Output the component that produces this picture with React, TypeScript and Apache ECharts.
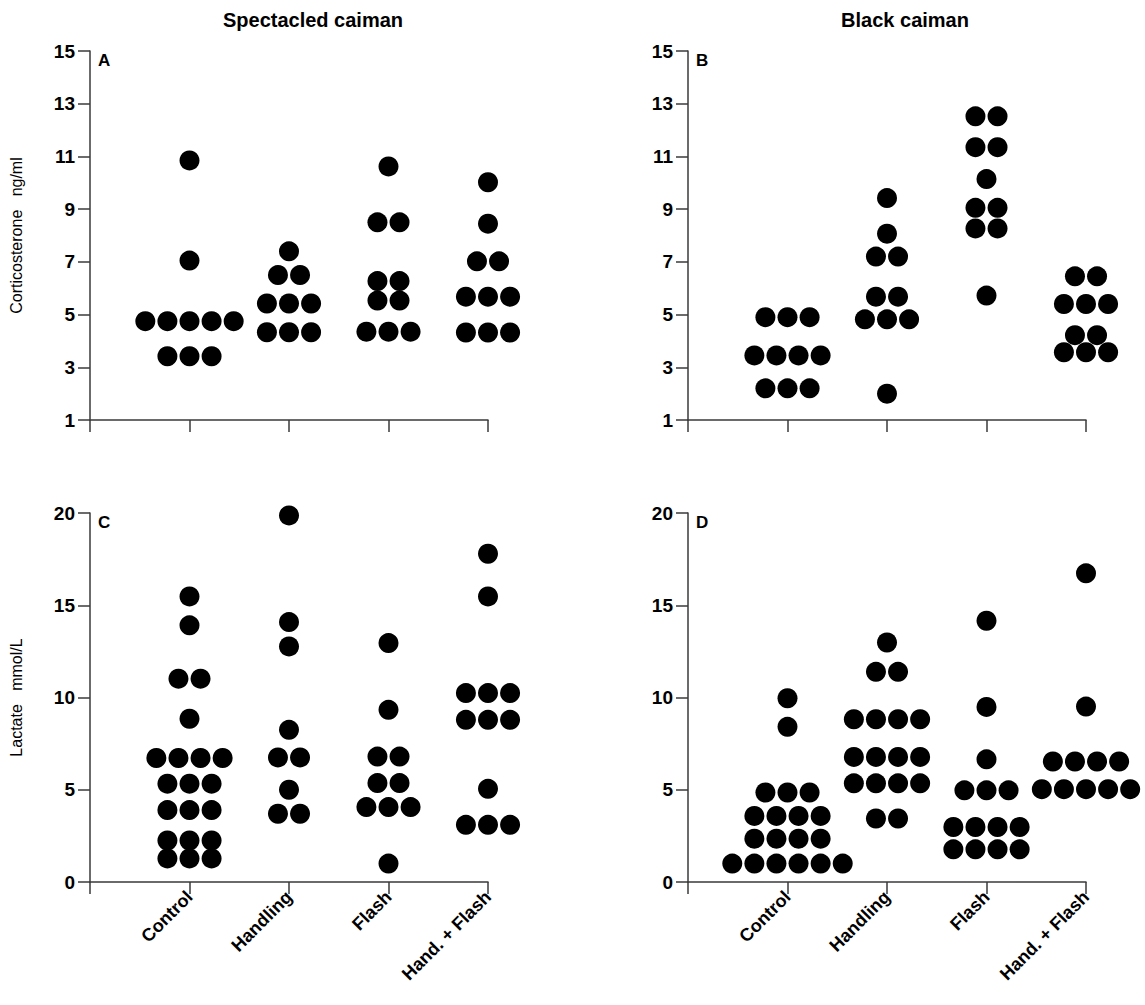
import React, { useEffect, useRef } from "react";
import * as echarts from "echarts";

const categories = ["Control", "Handling", "Flash", "Hand. + Flash"];

// Panel A – Spectacled caiman, corticosterone (ng/ml)
const specCortControl = [10.85, 7.05, 4.75, 4.75, 4.75, 4.75, 4.75, 3.42, 3.42, 3.42];
const specCortHandling = [7.4, 6.5, 6.5, 5.42, 5.42, 5.42, 4.33, 4.33, 4.33];
const specCortFlash = [10.62, 8.5, 8.5, 6.27, 6.27, 5.53, 5.53, 4.35, 4.35, 4.35];
const specCortHandFlash = [10.02, 8.45, 7.02, 7.02, 5.68, 5.68, 5.68, 4.32, 4.32, 4.32];

// Panel B – Black caiman, corticosterone (ng/ml)
const blackCortControl = [4.9, 4.9, 4.9, 3.45, 3.45, 3.45, 3.45, 2.2, 2.2, 2.2];
const blackCortHandling = [9.42, 8.07, 7.2, 7.2, 5.68, 5.68, 4.82, 4.82, 4.82, 2.0];
const blackCortFlash = [12.52, 12.52, 11.35, 11.35, 10.14, 9.05, 9.05, 8.27, 8.27, 5.72];
const blackCortHandFlash = [6.45, 6.45, 5.4, 5.4, 5.4, 4.22, 4.22, 3.57, 3.57, 3.57];

// Panel C – Spectacled caiman, lactate (mmol/L)
const specLacControl = [15.48, 13.91, 11.02, 11.02, 8.85, 6.72, 6.72, 6.72, 6.72, 5.33, 5.33, 5.33, 3.9, 3.9, 3.9, 2.25, 2.25, 2.25, 1.28, 1.28, 1.28];
const specLacHandling = [19.87, 14.09, 12.77, 8.25, 6.75, 6.75, 5.0, 3.7, 3.7];
const specLacFlash = [12.95, 9.33, 6.8, 6.8, 5.36, 5.36, 4.06, 4.06, 4.06, 1.0];
const specLacHandFlash = [17.79, 15.48, 10.24, 10.24, 10.24, 8.79, 8.79, 8.79, 5.05, 3.1, 3.1, 3.1];

// Panel D – Black caiman, lactate (mmol/L)
const blackLacControl = [9.96, 8.41, 4.85, 4.85, 4.85, 3.58, 3.58, 3.58, 3.58, 2.35, 2.35, 2.35, 2.35, 1.0, 1.0, 1.0, 1.0, 1.0, 1.0];
const blackLacHandling = [12.98, 11.39, 11.39, 8.82, 8.82, 8.82, 8.82, 6.78, 6.78, 6.78, 6.78, 5.35, 5.35, 5.35, 5.35, 3.44, 3.44];
const blackLacFlash = [14.16, 9.49, 6.65, 4.97, 4.97, 4.97, 2.98, 2.98, 2.98, 2.98, 1.77, 1.77, 1.77, 1.77];
const blackLacHandFlash = [16.73, 9.51, 6.53, 6.53, 6.53, 6.53, 5.03, 5.03, 5.03, 5.03, 5.03];

const cortTicks = { min: 1, max: 15, interval: 2 };
const lacTicks = { min: 0, max: 20, interval: 5 };

const DOT_SPACING = 0.222; // horizontal spacing of tied points, in category units

function buildDots(groups: number[][]) {
  const out: number[][] = [];
  groups.forEach((vals, gi) => {
    const counts = new Map<number, number>();
    vals.forEach((v) => counts.set(v, (counts.get(v) || 0) + 1));
    counts.forEach((n, v) => {
      for (let i = 0; i < n; i++) {
        out.push([gi + 1 + (i - (n - 1) / 2) * DOT_SPACING, v]);
      }
    });
  });
  return out;
}

const FONT = "Liberation Sans, Arial, sans-serif";
const AXIS_COLOR = "#3a3a3a";

export default function App() {
  const ref = useRef<HTMLDivElement>(null);

  useEffect(() => {
    if (!ref.current) return;
    const chart = echarts.init(ref.current, undefined, { renderer: "svg" });

    const panels = [
      { left: 90, top: 51, ticks: cortTicks, groups: [specCortControl, specCortHandling, specCortFlash, specCortHandFlash], showX: false, name: "Corticosterone   ng/ml", letter: "A" },
      { left: 688, top: 51, ticks: cortTicks, groups: [blackCortControl, blackCortHandling, blackCortFlash, blackCortHandFlash], showX: false, name: "", letter: "B" },
      { left: 90, top: 513, ticks: lacTicks, groups: [specLacControl, specLacHandling, specLacFlash, specLacHandFlash], showX: true, name: "Lactate   mmol/L", letter: "C" },
      { left: 688, top: 513, ticks: lacTicks, groups: [blackLacControl, blackLacHandling, blackLacFlash, blackLacHandFlash], showX: true, name: "", letter: "D" },
    ];

    const axisLine = { show: true, lineStyle: { color: AXIS_COLOR, width: 1.5 } };
    const axisTick = { show: true, inside: false, length: 12, lineStyle: { color: AXIS_COLOR, width: 1.5 } };

    const option: any = {
      animation: false,
      backgroundColor: "#ffffff",
      grid: panels.map((p) => ({ left: p.left, top: p.top, width: 398, height: 369 })),
      xAxis: panels.map((p, i) => ({
        type: "value",
        gridIndex: i,
        min: 0,
        max: 4,
        interval: 1,
        axisLine,
        axisTick,
        splitLine: { show: false },
        axisLabel: {
          show: p.showX,
          rotate: 45,
          margin: 12,
          color: "#000",
          fontFamily: FONT,
          fontWeight: "bold",
          fontSize: 18,
          formatter: (v: number) => (v >= 1 && v <= 4 ? categories[v - 1] : ""),
        },
      })),
      yAxis: panels.map((p, i) => ({
        type: "value",
        gridIndex: i,
        min: p.ticks.min,
        max: p.ticks.max,
        interval: p.ticks.interval,
        axisLine,
        axisTick,
        splitLine: { show: false },
        axisLabel: {
          margin: 15,
          color: "#000",
          fontFamily: FONT,
          fontWeight: "bold",
          fontSize: 19,
        },
        name: p.name,
        nameLocation: "middle",
        nameRotate: 90,
        nameGap: 66,
        nameTextStyle: { color: "#000", fontFamily: FONT, fontSize: 16 },
      })),
      series: panels.map((p, i) => ({
        type: "scatter",
        xAxisIndex: i,
        yAxisIndex: i,
        clip: false,
        symbol: "circle",
        symbolSize: 20,
        itemStyle: { color: "#000", opacity: 1 },
        data: buildDots(p.groups),
      })),
      graphic: [
        { type: "text", x: 313, y: 20, style: { text: "Spectacled caiman", fontFamily: FONT, fontWeight: "bold", fontSize: 20, fill: "#000", align: "center", verticalAlign: "middle" } },
        { type: "text", x: 905, y: 20, style: { text: "Black caiman", fontFamily: FONT, fontWeight: "bold", fontSize: 20, fill: "#000", align: "center", verticalAlign: "middle" } },
        ...panels.map((p) => ({
          type: "text",
          x: p.left + 8,
          y: p.top + 9,
          style: { text: p.letter, fontFamily: FONT, fontWeight: "bold", fontSize: 17, fill: "#000", align: "left", verticalAlign: "middle" },
        })),
      ],
    };

    chart.setOption(option);
    return () => chart.dispose();
  }, []);

  return (
    <div
      ref={ref}
      style={{ position: "absolute", left: 0, top: 0, width: 1145, height: 1005, background: "#fff" }}
    />
  );
}
